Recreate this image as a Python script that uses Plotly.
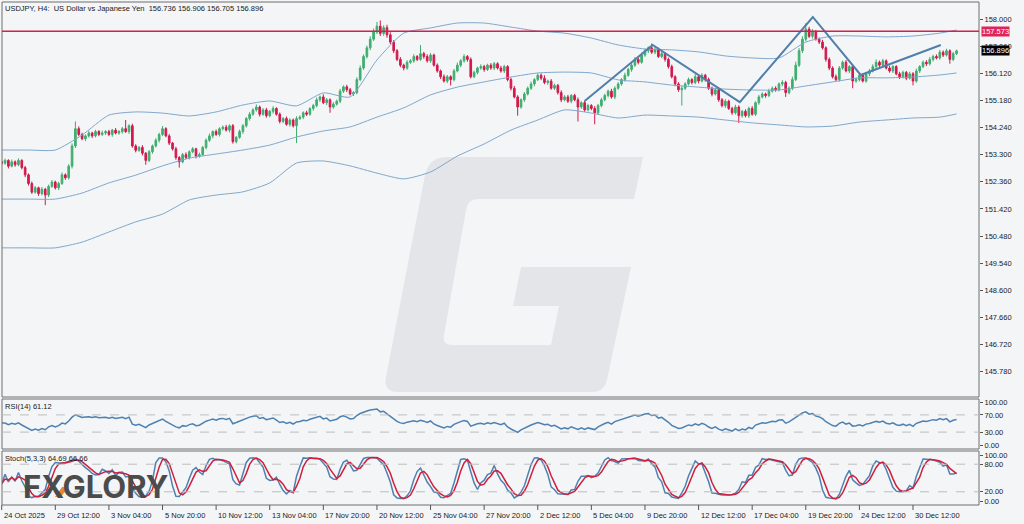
import plotly.graph_objects as go
import numpy as np

# ---------------- data ----------------
closes = [
 153.0,153.1,152.9,153.05,152.95,153.1,152.85,
 152.6,152.3,
 152.0,152.15,151.95,152.1,151.9,
 152.2,152.35,152.15,152.3,
 152.6,152.5,152.9,
 153.6,154.2,
 154.0,153.85,153.95,
 154.05,153.95,154.1,154.0,154.05,154.1,154.0,154.15,154.05,154.1,154.2,154.1,154.3,
 153.6,153.45,153.55,
 153.35,153.1,153.4,
 153.6,153.8,154.0,154.2,
 153.95,153.7,153.5,153.2,153.05,
 153.3,153.2,153.4,153.5,153.25,153.3,153.55,
 153.8,153.95,154.1,154.0,154.2,154.25,154.15,154.3,
 153.75,153.9,
 154.1,154.3,154.55,154.7,154.85,154.95,
 154.7,154.85,154.65,154.8,154.9,154.7,
 154.45,154.55,154.35,154.5,154.3,154.55,
 154.6,154.75,154.7,154.9,155.0,155.2,
 155.3,155.1,155.2,154.95,155.05,155.15,
 155.5,155.65,155.55,155.4,155.45,
 155.9,156.3,156.7,157.0,157.3,157.55,157.75,
 157.5,157.7,157.45,
 157.2,156.9,156.6,156.4,156.3,
 156.5,156.55,156.7,156.6,156.8,
 156.7,156.55,156.75,156.4,
 156.2,156.0,155.85,156.0,155.9,
 156.2,156.4,156.55,156.7,156.6,
 156.0,156.15,
 156.3,156.35,156.25,156.4,156.3,156.45,156.3,156.2,
 156.35,155.9,155.6,155.3,154.95,155.2,
 155.4,155.6,155.75,155.9,156.05,155.95,
 155.8,155.85,155.6,155.7,155.45,155.2,
 155.3,155.15,155.35,155.2,154.95,155.1,
 154.85,155.0,154.9,154.75,155.0,
 155.2,155.35,155.5,155.3,155.6,155.75,
 155.9,156.05,156.25,156.4,156.6,156.5,156.75,156.9,157.0,
 156.85,156.95,156.7,156.8,156.6,
 156.35,156.0,155.75,155.55,
 155.6,155.75,155.9,155.8,156.0,155.85,156.05,155.9,
 155.6,155.4,155.55,155.2,
 155.0,155.15,154.9,154.75,154.95,154.65,
 154.8,154.65,154.9,154.7,
 155.1,155.3,155.4,155.35,155.5,155.6,155.55,155.75,
 155.8,155.45,155.6,155.9,
 156.4,156.9,157.3,157.65,
 157.4,157.55,157.3,157.2,
 157.0,156.6,156.3,156.0,155.9,
 156.3,156.5,156.2,156.35,155.85,
 155.9,156.05,155.85,156.1,156.2,
 156.35,156.5,156.4,156.55,156.3,
 156.2,156.35,156.1,156.0,156.15,155.95,156.1,155.85,
 156.2,156.35,156.5,156.45,156.6,156.7,156.65,156.85,
 156.75,156.9,156.6,156.8,156.896,
]
first_open = 153.05

# upper / lower wick lengths in hundredths of a yen
wick_hi = [
 5,6,4,8,5,7,4,6,5,7, 6,4,8,5,6,7,5,6,8,5, 7,9,25,8,6,5,7,4,6,5, 8,5,6,4,7,5,6,30,5,7,
 6,5,8,4,6,5,7,6,9,5, 6,4,7,5,6,8,5,6,4,7, 5,6,8,4,7,5,6,8,5,6, 4,7,6,5,8,6,9,5,6,7,
 5,8,4,6,5,7,6,5,8,6, 5,7,4,6,8,5,9,6,5,7, 6,8,5,7,6,5,8,9,7,8, 10,12,15,20,8,10,9,7,6,8,
 5,7,6,8,5,30,6,8,7,5, 6,5,8,6,5,7,9,6,8,5, 7,6,5,8,6,5,7,6,5,8, 6,5,7,8,6,5,7,6,8,5,
 7,6,10,5,7,6,5,8,6,7, 5,6,8,5,7,6,5,8,6,7, 6,5,8,7,6,5,9,6,7,8, 6,8,7,5,15,8,6,7,5,6,
 7,5,6,8,6,7,5,9,6,7, 5,7,6,5,8,6,7,5,6,8, 6,5,7,6,8,5,7,6,5,8, 6,7,5,8,6,7,10,12,9,10,
 20,8,10,7,6,8,5,7,6,8, 7,6,8,5,6,7,5,8,6,7, 8,10,6,7,5,8,6,5,7,6, 5,7,6,8,5,6,7,8,6,7,
 8,6,7,5,6,4,
]
wick_lo = [
 6,5,8,4,7,5,6,8,7,6, 5,8,6,35,7,5,6,8,5,7, 6,8,7,6,5,8,6,7,5,6, 5,7,6,8,5,6,7,5,8,6,
 7,5,8,15,6,7,5,8,6,5, 7,6,8,20,5,6,7,5,8,6, 5,7,6,8,5,7,6,5,8,7, 6,5,8,6,7,5,6,8,5,7,
 6,8,5,7,6,5,8,6,60,5, 7,6,5,8,6,7,5,8,20,6, 5,7,6,8,5,7,6,5,6,7, 8,6,7,9,8,10,7,8,6,7,
 8,6,5,7,6,5,8,6,7,5, 6,8,5,7,20,6,5,7,6,8, 6,5,7,6,8,5,6,7,5,6, 7,6,8,5,30,6,7,5,6,8,
 5,7,6,8,5,6,7,8,5,6, 7,5,50,6,7,5,6,40,7,6, 5,7,6,8,5,6,7,5,8,6, 7,5,6,8,6,7,5,6,8,7,
 6,8,7,55,6,5,7,6,8,5, 7,6,8,5,7,6,8,5,7,6, 25,7,6,8,5,6,7,5,8,6, 5,7,6,8,15,6,7,5,6,8,
 7,6,8,5,7,6,8,7,6,5, 7,6,5,8,25,6,7,5,6,8, 5,7,6,8,5,6,7,5,8,6, 7,5,15,6,7,5,8,6,7,5,
 6,7,5,15,6,5,
]

# Bollinger band lines read at these bar positions
bb_bars = [0,8,16,24,32,40,48,56,64,72,80,88,96,104,112,120,128,136,144,152,160,
           168,176,184,192,200,208,216,224,232,240,248,256,264,272,280,285]
bb_upper = [153.46,153.46,153.46,153.98,154.67,154.78,154.74,154.64,154.78,155.02,155.16,
            154.99,155.44,155.30,156.58,157.51,157.69,157.86,157.86,157.72,157.58,157.51,
            157.34,157.10,156.96,156.93,156.86,156.72,156.65,156.65,157.20,157.41,157.41,
            157.38,157.41,157.51,157.62]
bb_middle = [151.76,151.76,151.76,151.97,152.32,152.59,152.91,153.18,153.32,153.46,153.63,
             153.91,154.12,154.26,154.60,154.92,155.37,155.64,155.82,155.99,156.13,156.16,
             156.13,155.89,155.82,155.71,155.64,155.57,155.54,155.54,155.68,155.82,155.96,
             155.96,155.99,156.06,156.13]
bb_lower = [150.07,150.07,150.07,150.27,150.62,150.97,151.24,151.73,151.90,152.01,152.32,
            153.01,153.08,152.91,152.66,152.46,152.70,153.25,153.67,154.15,154.50,154.85,
            154.74,154.57,154.67,154.64,154.60,154.50,154.40,154.33,154.26,154.29,154.43,
            154.50,154.57,154.60,154.71]

# hand-drawn zigzag pattern
zz_bars = [174.0, 194.3, 220.3, 242.1, 256.4, 280.3]
zz_price = [155.16, 157.10, 155.12, 158.07, 156.06, 157.10]

resistance = 157.573
last_price = 156.896

price_ticks = [158.000,157.060,156.120,155.180,154.240,153.300,152.360,151.420,
               150.480,149.540,148.600,147.660,146.720,145.780]
date_labels = ["24 Oct 2025","29 Oct 12:00","3 Nov 04:00","5 Nov 20:00","10 Nov 12:00",
               "13 Nov 04:00","17 Nov 20:00","20 Nov 12:00","25 Nov 04:00","27 Nov 20:00",
               "2 Dec 12:00","5 Dec 04:00","9 Dec 20:00","12 Dec 12:00","17 Dec 04:00",
               "19 Dec 20:00","24 Dec 12:00","30 Dec 12:00"]
date_bars = [16*k for k in range(len(date_labels))]

title_text = "USDJPY, H4:  US Dollar vs Japanese Yen  156.736 156.906 156.705 156.896"
rsi_text = "RSI(14) 61.12"
stoch_text = "Stoch(5,3,3) 64.69 66.66"

# ---------------- build OHLC ----------------
n = min(len(closes), len(wick_hi), len(wick_lo))
c = np.array(closes[:n])
o = np.concatenate([[first_open], c[:-1]])
hi = np.maximum(o, c) + np.array(wick_hi[:n]) / 100.0
lo = np.minimum(o, c) - np.array(wick_lo[:n]) / 100.0
bars = np.arange(n)

# RSI(14), Wilder smoothing (seeded with the average move of the first bars)
d = np.diff(c)
g = np.where(d > 0, d, 0.0)
l = np.where(d < 0, -d, 0.0)
rsi = np.zeros(n)
ag = g[:14].mean() * 1.4
al = l[:14].mean() * 0.8
for i in range(1, n):
    ag = (ag * 13 + g[i-1]) / 14
    al = (al * 13 + l[i-1]) / 14
    rsi[i] = 100.0 if al == 0 else 100 - 100 / (1 + ag / al)
rsi[0] = rsi[1]

# Stochastic (5,3,3)
num = np.zeros(n); den = np.zeros(n)
for i in range(n):
    s = max(0, i - 4)
    ll = lo[s:i+1].min(); hh = hi[s:i+1].max()
    num[i] = c[i] - ll; den[i] = hh - ll
k = np.zeros(n)
for i in range(n):
    s = max(0, i - 2)
    k[i] = 100 * num[s:i+1].sum() / max(den[s:i+1].sum(), 1e-9)
dsig = np.array([k[max(0, i-2):i+1].mean() for i in range(n)])

# ---------------- geometry helpers (pixel -> paper) ----------------
L, R, T, B = 2, 979, 2, 505
XR = [0.09, 291.7]
def px(x): return (x - L) / (R - L)
def py(y): return (B - y) / (B - T)
def bx(b): return (b - XR[0]) / (XR[1] - XR[0])

FONT = "Liberation Sans"
FS = 7.5
BG = "#f4f5f7"
BLUE = "#7fa7cc"

fig = go.Figure()

fig.add_trace(go.Candlestick(
    x=bars, open=o, high=hi, low=lo, close=c,
    increasing=dict(line=dict(color="#3fae6e", width=1), fillcolor="#3fae6e"),
    decreasing=dict(line=dict(color="#d3184c", width=1), fillcolor="#d3184c"),
    whiskerwidth=0, xaxis="x", yaxis="y", showlegend=False))

for band in (bb_upper, bb_middle, bb_lower):
    fig.add_trace(go.Scatter(x=bb_bars, y=band, mode="lines",
                             line=dict(color=BLUE, width=1, shape="spline", smoothing=0.6),
                             xaxis="x", yaxis="y", showlegend=False, hoverinfo="skip"))

fig.add_trace(go.Scatter(x=zz_bars, y=zz_price, mode="lines",
                         line=dict(color="#4f7faa", width=2),
                         xaxis="x", yaxis="y", showlegend=False))

fig.add_trace(go.Scatter(x=bars, y=rsi, mode="lines", line=dict(color="#4d81b1", width=1.5),
                         xaxis="x", yaxis="y2", showlegend=False))
fig.add_trace(go.Scatter(x=bars, y=k, mode="lines", line=dict(color="#4d81b1", width=1.5),
                         xaxis="x", yaxis="y3", showlegend=False))
fig.add_trace(go.Scatter(x=bars, y=dsig, mode="lines", line=dict(color="#cf1f3c", width=1.5),
                         xaxis="x", yaxis="y3", showlegend=False))

shapes = []
# G watermark
gpts = ("M 447,157 L 643,157 L 634,199 L 478,199 Q 468,199 466,210 L 444,335 "
        "Q 442,345 452,345 L 551,345 L 559,306 L 513,306 L 521,267 L 631,267 "
        "L 607,380 Q 604,392 592,392 L 398,392 Q 383,392 386,377 L 425,175 Q 429,157 447,157 Z")
out = []
for t in gpts.split():
    if t.isalpha():
        out.append(t)
    else:
        xs, ys = t.split(",")
        out.append(f"{px(float(xs)):.5f},{py(float(ys)):.5f}")
shapes.append(dict(type="path", path=" ".join(out), xref="paper", yref="paper",
                   fillcolor="#e4e5e8", line=dict(width=0), layer="below"))

# panel frames
for (y0, y1) in ((2, 397), (399, 449), (451, 505)):
    shapes.append(dict(type="rect", xref="paper", yref="paper", x0=0, x1=1,
                       y0=py(y1), y1=py(y0), line=dict(color="#6e6e6e", width=1),
                       fillcolor="rgba(0,0,0,0)"))
# resistance line
shapes.append(dict(type="line", xref="paper", yref="y", x0=0, x1=1, y0=resistance, y1=resistance,
                   line=dict(color="#d61f4d", width=1.5)))
# indicator levels
for lv in (70, 30):
    shapes.append(dict(type="line", xref="paper", yref="y2", x0=0, x1=1, y0=lv, y1=lv,
                       line=dict(color="#bdbdbd", width=1, dash="dash")))
for lv in (80, 20):
    shapes.append(dict(type="line", xref="paper", yref="y3", x0=0, x1=1, y0=lv, y1=lv,
                       line=dict(color="#bdbdbd", width=1, dash="dash")))
# x-axis tick marks (drawn below the bottom frame, each at a date label)
for b in date_bars:
    shapes.append(dict(type="line", xref="paper", yref="paper", x0=bx(b), x1=bx(b),
                       y0=py(505), y1=py(510), line=dict(color="#555", width=1)))
# orange stroke of the logo's X
shapes.append(dict(type="path", xref="paper", yref="paper",
                   path=f"M {px(55):.5f},{py(497):.5f} L {px(61):.5f},{py(497):.5f} "
                        f"L {px(68):.5f},{py(487):.5f} L {px(62):.5f},{py(487):.5f} Z",
                   fillcolor="#e8862e", line=dict(width=0)))

annotations = []
def txt(x, y, s, size=FS, color="#1a1a1a", anchor="left"):
    annotations.append(dict(x=px(x), y=py(y), xref="paper", yref="paper", text=s,
                            showarrow=False, xanchor=anchor, yanchor="middle",
                            font=dict(family=FONT, size=size, color=color)))
txt(3, 8, title_text)
txt(3, 406, rsi_text)
txt(3, 458, stoch_text)
for lab, b in zip(date_labels, date_bars):
    annotations.append(dict(x=max(bx(b), 0.0), y=py(515), xref="paper", yref="paper", text=lab,
                            showarrow=False, xanchor="left", yanchor="middle",
                            font=dict(family=FONT, size=FS, color="#1a1a1a")))
# price boxes on the right scale
annotations.append(dict(x=1, y=resistance, xref="paper", yref="y", text=str(resistance),
                        showarrow=False, xanchor="left", yanchor="middle", xshift=2,
                        bgcolor="#e0245a", borderpad=0,
                        font=dict(family=FONT, size=FS, color="white")))
annotations.append(dict(x=1, y=last_price, xref="paper", yref="y", text=f"{last_price:.3f}",
                        showarrow=False, xanchor="left", yanchor="middle", xshift=2,
                        bgcolor="#000000", borderpad=0,
                        font=dict(family=FONT, size=FS, color="white")))
# FXGLORY logo
annotations.append(dict(x=px(95), y=py(486), xref="paper", yref="paper", text="<b>FXGLORY</b>",
                        showarrow=False, xanchor="center", yanchor="middle",
                        font=dict(family="Inter", size=31, color="#4b4b4b")))

axis_font = dict(family=FONT, size=FS, color="#1a1a1a")
fig.update_layout(
    width=1024, height=524,
    margin=dict(l=L, r=1024 - R, t=T, b=524 - B),
    paper_bgcolor=BG, plot_bgcolor=BG,
    showlegend=False,
    shapes=shapes, annotations=annotations,
    xaxis=dict(domain=[0, 1], range=XR, anchor="y3", showticklabels=False,
               ticks="", showgrid=False, zeroline=False, showline=False,
               rangeslider=dict(visible=False)),
    yaxis=dict(domain=[py(397), py(2)], range=[144.902, 158.589], side="right", anchor="x",
               tickvals=price_ticks, ticktext=[f"{v:.3f}" for v in price_ticks],
               ticks="outside", ticklen=3, tickcolor="#555", tickfont=axis_font,
               showgrid=False, zeroline=False),
    yaxis2=dict(domain=[py(449), py(399)], range=[-9.3, 106.98], side="right", anchor="x",
                tickvals=[100, 70, 30, 0], ticktext=["100.00", "70.00", "30.00", "0.00"],
                ticks="outside", ticklen=3, tickcolor="#555", tickfont=axis_font,
                showgrid=False, zeroline=False),
    yaxis3=dict(domain=[py(505), py(451)], range=[-8.7, 108.7], side="right", anchor="x",
                tickvals=[100, 80, 20, 0], ticktext=["100.00", "80.00", "20.00", "0.00"],
                ticks="outside", ticklen=3, tickcolor="#555", tickfont=axis_font,
                showgrid=False, zeroline=False),
)

fig.write_html("out.html", config={"displayModeBar": False},
               post_script="document.body.style.margin='0px';document.body.style.overflow='hidden';")
